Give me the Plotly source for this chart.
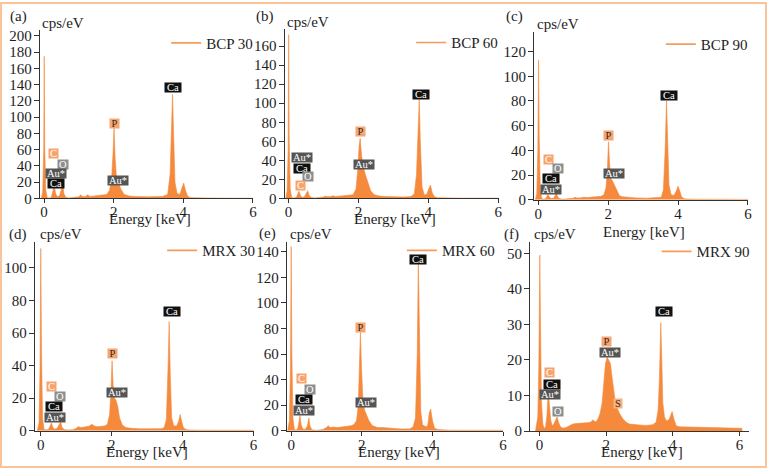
import plotly.graph_objects as go

W, H = 771, 476
FONT = "Liberation Serif"
FILL = "#f58a3d"
LEG = "#f59b5c"
AXC = "#333333"
TXT = "#1e1e1e"

# ---------------- data ----------------
series_names = ["BCP 30", "BCP 60", "BCP 90", "MRX 30", "MRX 60", "MRX 90"]
panel_letters = ["(a)", "(b)", "(c)", "(d)", "(e)", "(f)"]
x_ticks = [0, 2, 4, 6]

a_energy = [-0.08, -0.04, -0.01, 0.005, 0.02, 0.05, 0.09, 0.14, 0.2, 0.25, 0.29, 0.33, 0.38, 0.44, 0.49, 0.53,
            0.57, 0.62, 0.7, 0.85, 1.0, 1.05, 1.1, 1.18, 1.25, 1.32, 1.4, 1.5, 1.6, 1.7, 1.8, 1.88, 1.94, 1.98,
            2.01, 2.04, 2.08, 2.13, 2.2, 2.3, 2.45, 2.6, 3.0, 3.4, 3.55, 3.62, 3.66, 3.69, 3.72, 3.76, 3.82,
            3.9, 3.96, 4.01, 4.06, 4.12, 4.2, 4.5, 5.0, 5.5, 6.0]
a_counts = [0, 8, 60, 175, 60, 10, 1, 0.5, 1, 8, 17, 6, 2, 3, 10, 19,
            6, 1.5, 0.5, 0.8, 2, 4.5, 2.5, 2, 4.5, 2.5, 3, 3.5, 3.5, 4, 5, 10, 25, 55,
            87, 50, 25, 21, 12, 5, 3, 2.5, 2, 2.5, 5, 30, 90, 128, 80, 20, 6,
            5, 13, 19, 10, 3, 1, 0.5, 0.4, 0.3, 0.3]

b_energy = [-0.08, -0.04, -0.01, 0.005, 0.02, 0.05, 0.09, 0.15, 0.22, 0.27, 0.3, 0.34, 0.4, 0.46, 0.51, 0.55,
            0.59, 0.65, 0.75, 0.9, 1.0, 1.05, 1.1, 1.2, 1.27, 1.35, 1.45, 1.55, 1.65, 1.75, 1.85, 1.93, 1.98,
            2.02, 2.05, 2.09, 2.14, 2.2, 2.27, 2.35, 2.45, 2.6, 2.8, 3.0, 3.3, 3.5, 3.6, 3.66, 3.71, 3.74,
            3.77, 3.82, 3.88, 3.95, 4.01, 4.06, 4.11, 4.17, 4.25, 4.5, 5.0, 5.5, 6.0]
b_counts = [0, 8, 50, 172, 60, 10, 1, 0.5, 1, 5, 7.6, 3, 1, 2, 6, 8.2,
            3, 1, 0.5, 0.8, 1.5, 2.5, 1.8, 2, 2.8, 2, 2.5, 3, 3, 3.5, 4, 10, 30,
            55, 63, 45, 33, 25, 16, 8, 4, 2.5, 2, 1.5, 1.5, 2, 5, 25, 80, 104,
            60, 12, 4, 4, 10, 14, 6, 2, 0.8, 0.5, 0.3, 0.3, 0.3]

c_energy = [-0.08, -0.04, -0.01, 0.01, 0.03, 0.06, 0.1, 0.15, 0.22, 0.26, 0.28, 0.32, 0.38, 0.45, 0.5, 0.52,
            0.56, 0.62, 0.7, 0.85, 1.0, 1.05, 1.1, 1.2, 1.3, 1.4, 1.5, 1.6, 1.7, 1.8, 1.88, 1.94, 1.98,
            2.01, 2.04, 2.08, 2.13, 2.18, 2.25, 2.32, 2.4, 2.55, 2.8, 3.1, 3.4, 3.52, 3.58, 3.63, 3.67, 3.7,
            3.74, 3.8, 3.88, 3.95, 4.0, 4.05, 4.1, 4.16, 4.25, 4.5, 5.0, 5.5, 6.0]
c_counts = [0, 5, 40, 113, 50, 8, 1, 0.5, 1, 3, 4.2, 2, 1, 1.5, 4, 5.5,
            2, 0.8, 0.4, 0.6, 1.2, 2, 1.5, 1.5, 2, 1.8, 2, 2.2, 2.5, 2.8, 4, 10, 25,
            47, 30, 17, 15, 12, 7, 3.5, 2.5, 2, 1.5, 1.3, 1.5, 2, 8, 40, 80, 50,
            12, 4, 3.5, 7, 11, 7, 2.5, 1, 0.6, 0.4, 0.3, 0.3, 0.3]

d_energy = [-0.1, -0.05, -0.02, 0.0, 0.02, 0.05, 0.09, 0.15, 0.22, 0.27, 0.3, 0.34, 0.4, 0.46, 0.52, 0.56,
            0.6, 0.66, 0.75, 0.9, 1.0, 1.05, 1.15, 1.25, 1.35, 1.45, 1.5, 1.6, 1.7, 1.8, 1.88, 1.94, 1.98,
            2.01, 2.04, 2.08, 2.12, 2.17, 2.22, 2.3, 2.4, 2.55, 2.8, 3.1, 3.4, 3.48, 3.54, 3.59, 3.62, 3.65,
            3.69, 3.75, 3.83, 3.89, 3.93, 3.97, 4.02, 4.08, 4.15, 4.5, 5.0, 5.5, 6.0]
d_counts = [0, 5, 40, 112, 50, 8, 1, 0.5, 1, 3, 4.8, 2, 1, 1.5, 4, 5.4,
            2, 0.8, 0.5, 0.6, 1.5, 2.5, 2, 2.5, 2.8, 4, 3, 2.5, 2.8, 3, 4, 10, 25,
            43, 28, 20, 18.8, 15, 8, 3.5, 2, 1.5, 1.2, 1.2, 1.3, 2, 7, 40, 67, 35,
            8, 3, 3, 6, 10, 6, 2, 1, 0.5, 0.4, 0.3, 0.3, 0.3]

e_energy = [-0.1, -0.05, -0.02, 0.0, 0.02, 0.05, 0.09, 0.14, 0.19, 0.23, 0.25, 0.28, 0.33, 0.4, 0.46, 0.5,
            0.53, 0.58, 0.65, 0.75, 0.9, 1.0, 1.05, 1.1, 1.2, 1.3, 1.4, 1.5, 1.6, 1.7, 1.78, 1.85, 1.9,
            1.93, 1.96, 1.99, 2.03, 2.08, 2.13, 2.2, 2.3, 2.45, 2.6, 2.8, 3.1, 3.35, 3.45, 3.52, 3.57, 3.6,
            3.63, 3.67, 3.72, 3.78, 3.83, 3.87, 3.91, 3.95, 4.0, 4.06, 4.15, 4.5, 5.0, 5.5, 6.0]
e_counts = [0, 8, 50, 144, 60, 10, 1, 0.5, 2, 8, 12, 5, 1.5, 1, 4, 10,
            4, 1, 0.5, 0.5, 1, 2.5, 4, 2.5, 3, 2.5, 3, 3, 3.5, 4, 5, 8, 20,
            45, 77, 50, 25, 16, 13, 8, 4, 2.5, 2.5, 2, 1.5, 1.5, 3, 10, 60, 133,
            80, 15, 4.5, 4, 3, 5, 14, 17, 8, 2, 1, 0.5, 0.4, 0.4, 0.4]

f_energy = [-0.12, -0.05, -0.02, 0.01, 0.03, 0.06, 0.1, 0.14, 0.18, 0.22, 0.25, 0.27, 0.3, 0.34, 0.38, 0.43,
            0.48, 0.53, 0.57, 0.63, 0.7, 0.8, 0.9, 1.0, 1.1, 1.2, 1.3, 1.4, 1.5, 1.56, 1.6, 1.64, 1.7,
            1.76, 1.82, 1.88, 1.93, 1.98, 2.03, 2.08, 2.13, 2.18, 2.23, 2.28, 2.33, 2.4, 2.5, 2.6, 2.7,
            2.85, 3.0, 3.2, 3.4, 3.5, 3.56, 3.6, 3.64, 3.67, 3.7, 3.75, 3.8, 3.85, 3.9, 3.94, 3.98, 4.03,
            4.1, 4.2, 4.5, 5.0, 5.5, 6.0, 6.07, 6.08]
f_counts = [0, 4, 18, 49.5, 30, 8, 2, 0.8, 1, 4, 9, 11, 7, 3, 1.5, 2,
            3, 4, 2.5, 1.2, 0.8, 1, 1.5, 2, 2.1, 2.2, 2.3, 2.3, 2.4, 2.7, 3.2, 2.8, 2.6,
            3.5, 5, 8, 13, 19, 20.8, 20, 19, 15, 11, 8, 6.5, 5, 3.5, 2.5, 2,
            1.8, 1.7, 1.6, 1.8, 2.5, 6, 15, 30.5, 20, 8, 4, 3, 3, 3.5, 4.5, 5.5, 3.5,
            1.5, 1.2, 1.1, 1.0, 0.9, 0.8, 0.8, 0]

# element labels: (text, energy keV, counts)
a_labels = [("C", 0.28, 55.4), ("O", 0.53, 42.4), ("Au*", 0.34, 30.4), ("Ca", 0.33, 18.3),
            ("P", 2.03, 92), ("Au*", 2.13, 22.5), ("Ca", 3.71, 136)]
b_labels = [("Au*", 0.38, 43), ("Ca", 0.39, 32), ("O", 0.57, 23), ("C", 0.35, 14),
            ("P", 2.05, 70), ("Au*", 2.17, 36), ("Ca", 3.78, 109)]
c_labels = [("C", 0.30, 32.4), ("O", 0.57, 25), ("Ca", 0.36, 17), ("Au*", 0.37, 8.6),
            ("P", 2.01, 51.8), ("Au*", 2.17, 20.9), ("Ca", 3.73, 84.5)]
d_labels = [("C", 0.31, 27.2), ("O", 0.54, 21), ("Ca", 0.36, 14.9), ("Au*", 0.40, 8.4),
            ("P", 2.03, 47.7), ("Au*", 2.14, 23.3), ("Ca", 3.71, 73.2)]
e_labels = [("C", 0.29, 40.5), ("O", 0.54, 32.5), ("Ca", 0.35, 24.2), ("Au*", 0.35, 15.8),
            ("P", 1.97, 81), ("Au*", 2.13, 22.4), ("Ca", 3.58, 134)]
f_labels = [("C", 0.30, 16.4), ("Ca", 0.39, 13.1), ("Au*", 0.33, 10.2), ("O", 0.56, 5.6),
            ("P", 2.0, 25.1), ("Au*", 2.13, 22.1), ("S", 2.36, 7.7), ("Ca", 3.74, 33.6)]

energies = [a_energy, b_energy, c_energy, d_energy, e_energy, f_energy]
counts = [a_counts, b_counts, c_counts, d_counts, e_counts, f_counts]
labels = [a_labels, b_labels, c_labels, d_labels, e_labels, f_labels]
y_dticks = [20, 20, 20, 20, 20, 10]

# ---------------- layout geometry (pixels) ----------------
geom = [
    dict(x0=44.3, sx=35.0, xl=40.0, xe=6.01, y0=200.7, sy=0.83, yt=29.0),
    dict(x0=290.0, sx=35.15, xl=286.0, xe=6.01, y0=200.7, sy=0.973, yt=28.0),
    dict(x0=541.0, sx=35.15, xl=536.7, xe=6.01, y0=202.0, sy=1.261, yt=30.7),
    dict(x0=41.0, sx=35.65, xl=35.0, xe=6.01, y0=438.0, sy=1.663, yt=245.0),
    dict(x0=292.7, sx=35.5, xl=288.3, xe=6.01, y0=438.0, sy=1.307, yt=245.0),
    dict(x0=542.3, sx=33.5, xl=532.7, xe=6.3, y0=438.3, sy=3.632, yt=245.0),
]
letter_pos = [(8, 15), (255, 15), (507, 15), (7, 237), (258, 236), (505, 237)]
cps_pos = [(40.7, 21), (286.7, 20), (537.3, 22.7), (37.7, 237.3), (289, 236.7), (534.3, 236.7)]
etitle_pos = [(151, 222), (397.5, 222), (647.5, 235), (148, 460), (401, 460), (645, 460)]
legend_pos = [(207, 42), (453.3, 41.7), (704.3, 43.3), (203, 254), (444, 254), (700, 255)]

label_style = {
    "C": ("#f8a36c", "#ffffff", 9),
    "O": ("#8e8e8e", "#ffffff", 10),
    "Au*": ("#555555", "#ffffff", 20),
    "Ca": ("#111111", "#ffffff", 16),
    "P": ("#f6a670", "#3a2418", 9),
    "S": ("#f7b27e", "#3a2418", 8),
}

FS = 15


def px(x):
    return x / W


def py(y):
    return 1 - y / H


fig = go.Figure()
layout = dict(
    width=W, height=H, margin=dict(l=0, r=0, t=0, b=0),
    paper_bgcolor="white", plot_bgcolor="rgba(0,0,0,0)",
    font=dict(family=FONT, size=FS, color=TXT),
    showlegend=True,
)
annotations = []

for i in range(6):
    g = geom[i]
    n = "" if i == 0 else str(i + 1)
    xa, ya = "x" + n, "y" + n
    legname = "legend" + n

    fig.add_trace(go.Scatter(
        x=energies[i], y=counts[i], mode="lines", fill="tozeroy",
        fillcolor=FILL, line=dict(color=FILL, width=0.6),
        xaxis=xa, yaxis=ya, showlegend=False, hoverinfo="skip"))
    fig.add_trace(go.Scatter(
        x=[None], y=[None], mode="lines", name=series_names[i],
        line=dict(color=LEG, width=1.6), xaxis=xa, yaxis=ya, legend=legname))

    xr0 = (g["xl"] - g["x0"]) / g["sx"]
    xr1 = g["xe"]
    xpx1 = g["x0"] + xr1 * g["sx"]
    ytop = (g["y0"] - g["yt"]) / g["sy"]

    layout["xaxis" + n] = dict(
        domain=[px(g["xl"]), px(xpx1)], range=[xr0, xr1], anchor=ya,
        tickvals=x_ticks, ticks="outside", ticklen=4, tickwidth=1, tickcolor=AXC,
        ticklabelstandoff=-4,
        showline=True, linecolor=AXC, linewidth=1, showgrid=False, zeroline=False,
        tickfont=dict(family=FONT, size=FS, color=TXT), fixedrange=True)
    layout["yaxis" + n] = dict(
        domain=[py(g["y0"]), py(g["yt"])], range=[0, ytop], anchor=xa,
        dtick=y_dticks[i], tick0=0, ticks="outside", ticklen=5, tickwidth=1, tickcolor=AXC,
        ticklabelstandoff=-1,
        showline=True, linecolor=AXC, linewidth=1, showgrid=False, zeroline=False,
        tickfont=dict(family=FONT, size=FS, color=TXT), fixedrange=True)

    lx, ly = legend_pos[i]
    layout[legname] = dict(
        x=px(lx - 40), y=py(ly), xanchor="left", yanchor="middle",
        xref="paper", yref="paper", bgcolor="rgba(0,0,0,0)", borderwidth=0,
        font=dict(family=FONT, size=FS, color=TXT), itemwidth=30,
        tracegroupgap=0)

    annotations.append(dict(text=panel_letters[i], x=px(letter_pos[i][0]), y=py(letter_pos[i][1]),
                            xref="paper", yref="paper", xanchor="left", yanchor="middle",
                            showarrow=False, font=dict(family=FONT, size=FS, color=TXT)))
    annotations.append(dict(text="cps/eV", x=px(cps_pos[i][0]), y=py(cps_pos[i][1]),
                            xref="paper", yref="paper", xanchor="left", yanchor="middle",
                            showarrow=False, font=dict(family=FONT, size=FS, color=TXT)))
    annotations.append(dict(text="Energy [keV]", x=px(etitle_pos[i][0]), y=py(etitle_pos[i][1]),
                            xref="paper", yref="paper", xanchor="center", yanchor="middle",
                            showarrow=False, font=dict(family=FONT, size=FS, color=TXT)))
    for (t, ex, ey) in labels[i]:
        bg, fc, wd = label_style[t]
        annotations.append(dict(text=t, x=ex, y=ey, xref=xa, yref=ya,
                                xanchor="center", yanchor="middle", showarrow=False,
                                bgcolor=bg, width=wd, height=9, borderpad=0,
                                font=dict(family=FONT, size=10.5, color=fc)))

layout["annotations"] = annotations
layout["shapes"] = [dict(type="rect", xref="paper", yref="paper", x0=0.0013, y0=0.002, x1=0.9987, y1=0.998,
                         line=dict(color="#f9c49a", width=2), fillcolor="rgba(0,0,0,0)", layer="above")]
fig.update_layout(**layout)
fig.write_html("out.html")
